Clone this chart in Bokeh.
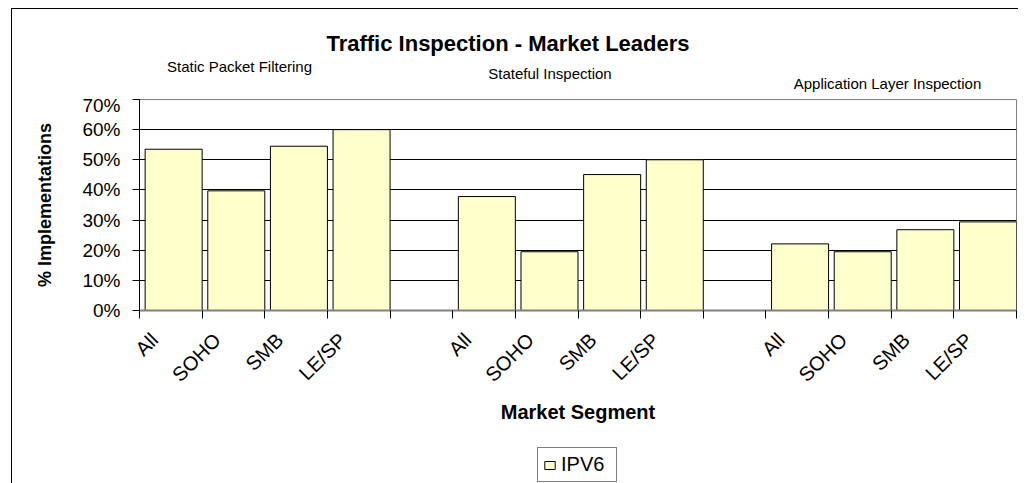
import math
from bokeh.plotting import figure
from bokeh.layouts import column
from bokeh.models import Range1d, FixedTicker, NumeralTickFormatter, Label, Legend, LegendItem, ColumnDataSource
from bokeh.embed import file_html
from bokeh.resources import INLINE

# ---- data ----
segments = ["All", "SOHO", "SMB", "LE/SP"]
inspection_types = ["Static Packet Filtering", "Stateful Inspection", "Application Layer Inspection"]
static_packet = [0.535, 0.397, 0.545, 0.600]
stateful = [0.378, 0.195, 0.451, 0.500]
app_layer = [0.221, 0.195, 0.268, 0.294]
y_ticks = [0.0, 0.1, 0.2, 0.3, 0.4, 0.5, 0.6, 0.7]
series_name = "IPV6"
title_text = "Traffic Inspection - Market Leaders"
x_title = "Market Segment"
y_title = "% Implementations"

groups = [static_packet, stateful, app_layer]
slot_per_group = len(segments) + 1
n_slots = slot_per_group * len(groups) - 1

LABEL_POS = 0.24  # where the rotated label ends inside its slot
xs, tops = [], []
labels = {}
for g, vals in enumerate(groups):
    for j, v in enumerate(vals):
        s = g * slot_per_group + j
        xs.append(s + 0.545)
        tops.append(v)
for s in range(n_slots):
    j = s % slot_per_group
    labels[s + LABEL_POS] = segments[j] if j < len(segments) else ""
source = ColumnDataSource(data=dict(x=xs, top=tops))

FONT = "Liberation Sans"
W = 1006
BL, BR = 127, 2
BAR_STYLE = dict(width=0.91, bottom=0, fill_color="#FFFFCC", line_color="#000000", line_width=1)

# ---- header figure (titles) ----
t = figure(width=W, height=85, output_backend="svg", toolbar_location=None,
           x_range=Range1d(0, 1), y_range=Range1d(0, 1),
           x_axis_type=None, y_axis_type=None,
           min_border_left=BL, min_border_right=BR, min_border_top=0, min_border_bottom=0)
t.outline_line_color = None
t.xgrid.visible = False
t.ygrid.visible = False
t.add_layout(Label(x=368.5, y=50.7, x_units="screen", y_units="screen", text=title_text,
                   text_font=FONT, text_font_size="22px", text_font_style="bold",
                   text_align="center", text_baseline="alphabetic", text_color="#000000"))
sub_pos = [(100, 28.5), (410.5, 20.7), (748, 11.3)]
for name, (sx, sy) in zip(inspection_types, sub_pos):
    t.add_layout(Label(x=sx, y=sy, x_units="screen", y_units="screen", text=name,
                       text_font=FONT, text_font_size="15px",
                       text_align="center", text_baseline="alphabetic", text_color="#000000"))

# ---- main chart ----
p = figure(width=W, height=346, output_backend="svg", toolbar_location=None,
           x_range=Range1d(0, n_slots), y_range=Range1d(0, 0.7),
           min_border_left=BL, min_border_right=BR, min_border_top=5, min_border_bottom=130)
p.background_fill_color = "white"
p.border_fill_color = "white"
p.outline_line_color = "#808080"
p.outline_line_width = 1

r = p.vbar(x="x", top="top", source=source, **BAR_STYLE)

p.xgrid.visible = False
p.ygrid.ticker = FixedTicker(ticks=y_ticks[1:-1])
p.ygrid.grid_line_color = "#000000"
p.ygrid.grid_line_width = 1

# y axis
p.yaxis.ticker = FixedTicker(ticks=y_ticks)
p.yaxis.formatter = NumeralTickFormatter(format="0%")
p.yaxis.major_label_text_font = FONT
p.yaxis.major_label_text_font_size = "19px"
p.yaxis.major_label_text_color = "#000000"
p.yaxis.major_tick_out = 7
p.yaxis.major_tick_in = 0
p.yaxis.minor_tick_line_color = None
p.yaxis.major_label_standoff = 12
p.yaxis.axis_line_color = "#000000"
p.yaxis.axis_label = y_title
p.yaxis.axis_label_text_font = FONT
p.yaxis.axis_label_text_font_style = "bold"
p.yaxis.axis_label_text_font_size = "18px"
p.yaxis.axis_label_text_color = "#000000"
p.yaxis.axis_label_standoff = 24

# x axis
p.xaxis.ticker = FixedTicker(ticks=list(labels.keys()), minor_ticks=list(range(n_slots + 1)))
p.xaxis.major_label_overrides = labels
p.xaxis.major_label_orientation = math.pi / 4
p.xaxis.major_label_text_font = FONT
p.xaxis.major_label_text_font_size = "20px"
p.xaxis.major_label_text_color = "#000000"
p.xaxis.major_tick_out = 0
p.xaxis.major_tick_in = 0
p.xaxis.minor_tick_out = 8
p.xaxis.minor_tick_in = 0
p.xaxis.minor_tick_line_color = "#000000"
p.xaxis.minor_tick_line_width = 1
p.xaxis.major_label_standoff = 18
p.xaxis.axis_line_color = "#808080"
p.xaxis.axis_line_width = 2
p.xaxis.axis_label = x_title
p.xaxis.axis_label_text_font = FONT
p.xaxis.axis_label_text_font_style = "bold"
p.xaxis.axis_label_text_font_size = "20px"
p.xaxis.axis_label_text_color = "#000000"
p.xaxis.axis_label_standoff = 4

# ---- footer figure (legend) ----
f = figure(width=W, height=43, output_backend="svg", toolbar_location=None,
           x_range=p.x_range, y_range=p.y_range,
           x_axis_type=None, y_axis_type=None,
           min_border_left=BL, min_border_right=BR, min_border_top=0, min_border_bottom=0)
f.outline_line_color = None
f.xgrid.visible = False
f.ygrid.visible = False
rf = f.vbar(x="x", top="top", source=source, visible=False, **BAR_STYLE)

legend = Legend(items=[LegendItem(label=series_name, renderers=[rf])], location=(398, 1),
                orientation="horizontal")
legend.label_text_font = FONT
legend.label_text_font_size = "20px"
legend.label_text_color = "#000000"
legend.glyph_width = 13
legend.glyph_height = 10
legend.padding = 5
legend.margin = 0
legend.spacing = 0
legend.label_standoff = 5
legend.label_width = 50
legend.border_line_color = "#000000"
legend.border_line_width = 1
legend.background_fill_alpha = 1
f.add_layout(legend, "center")

layout = column(t, p, f, spacing=0)
layout.styles = {"border-top": "1px solid #000", "border-left": "1px solid #000",
                 "margin-left": "11px", "margin-top": "8px"}

open("out.html", "w").write(file_html(layout, INLINE))
